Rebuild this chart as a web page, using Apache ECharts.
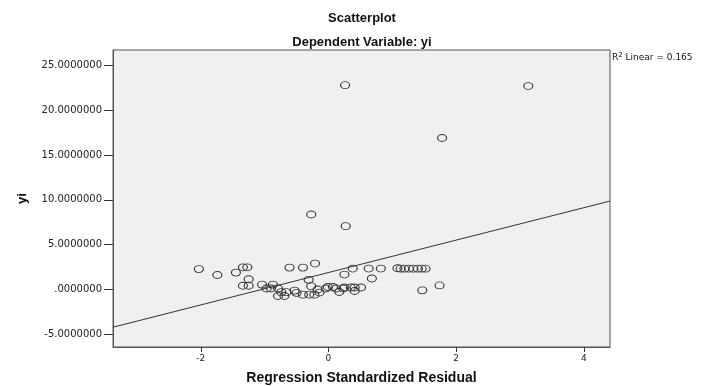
<!DOCTYPE html>
<html>
<head>
<meta charset="utf-8">
<script src="https://cdn.jsdelivr.net/npm/echarts@6/dist/echarts.min.js"></script>
<style>
  html, body { margin: 0; padding: 0; background: #fff; }
  #chart { width: 706px; height: 386px; }
</style>
</head>
<body>
<div id="chart"></div>
<script>
// residual (x) / yi (y) pairs
var points = [
  [0.26, 22.8], [3.13, 22.7], [1.78, 16.9], [-0.27, 8.35], [0.27, 7.05],
  [-2.03, 2.25], [-1.74, 1.6], [-1.45, 1.86], [-1.34, 2.45], [-1.27, 2.45],
  [-1.25, 1.12], [-0.61, 2.42], [-0.40, 2.42], [-0.21, 2.87], [-0.31, 1.05],
  [0.25, 1.64], [0.38, 2.31], [0.63, 2.31], [0.82, 2.31], [0.68, 1.2],
  [1.08, 2.35], [1.13, 2.3], [1.19, 2.3], [1.26, 2.3], [1.33, 2.3],
  [1.40, 2.3], [1.46, 2.3], [1.52, 2.3],
  [-1.34, 0.4], [-1.25, 0.4], [-1.04, 0.52], [-0.97, 0.08], [-0.87, 0.52],
  [-0.90, 0.08], [-0.79, 0.08], [-0.74, -0.32], [-0.66, -0.32], [-0.53, -0.15],
  [-0.50, -0.4], [-0.79, -0.75], [-0.69, -0.75], [-0.40, -0.6], [-0.30, -0.6],
  [-0.22, -0.6], [-0.27, 0.35], [-0.14, -0.37], [-0.17, -0.03], [-0.04, 0.08],
  [-0.01, 0.26], [0.07, 0.26], [0.12, 0.08], [0.17, -0.3], [0.23, 0.08],
  [0.25, 0.19], [0.35, 0.19], [0.41, 0.19], [0.51, 0.19], [0.41, -0.19],
  [1.47, -0.12], [1.74, 0.43]
];
// fit line: intercept, slope
var fitLine = [1.87, 1.81];
var xTicks = [-2, 0, 2, 4];
var yTicks = [-5, 0, 5, 10, 15, 20, 25];
var xRange = [-3.375, 4.41];
var yRange = [-6.45, 26.73];

var font = "'Liberation Sans', Arial, sans-serif";
var tickFont = "'DejaVu Sans', sans-serif";
var chart = echarts.init(document.getElementById("chart"));

var option = {
  backgroundColor: "#fff",
  animation: false,
  title: [
    {
      text: "Scatterplot",
      left: 357, top: 7, textAlign: "center",
      textStyle: { fontFamily: font, fontSize: 13, fontWeight: "bold", color: "#111" }
    },
    {
      text: "Dependent Variable: yi",
      left: 357, top: 31, textAlign: "center",
      textStyle: { fontFamily: font, fontSize: 13, fontWeight: "bold", color: "#111" }
    }
  ],
  graphic: [
    {
      type: "text",
      left: 612, top: 52,
      style: {
        text: "R{sup|2} Linear = 0.165",
        fontFamily: tickFont, fontSize: 9, fill: "#111",
        rich: { sup: { fontSize: 7, verticalAlign: "top", padding: [0, 0, 5, 0], fontFamily: tickFont } }
      }
    }
  ],
  grid: {
    left: 113, right: 96, top: 50, bottom: 39,
    outerBoundsMode: "none",
    show: true, backgroundColor: "#f0f0f0", borderColor: "#555", borderWidth: 1
  },
  xAxis: {
    type: "value",
    min: xRange[0], max: xRange[1],
    name: "Regression Standardized Residual",
    nameLocation: "middle", nameGap: 24,
    nameTextStyle: { fontFamily: font, fontSize: 14, fontWeight: "bold", color: "#111" },
    axisLine: { show: true, onZero: false, lineStyle: { color: "#555" } },
    axisTick: { show: true, customValues: xTicks, length: 5, lineStyle: { color: "#333" } },
    axisLabel: { customValues: xTicks, fontFamily: tickFont, fontSize: 9, color: "#222", margin: 7 },
    splitLine: { show: false }
  },
  yAxis: {
    type: "value",
    min: yRange[0], max: yRange[1],
    name: "yi",
    nameLocation: "middle", nameGap: 84, nameRotate: 90,
    nameTextStyle: { fontFamily: font, fontSize: 13, fontWeight: "bold", color: "#111" },
    axisLine: { show: true, onZero: false, lineStyle: { color: "#555" } },
    axisTick: { show: true, customValues: yTicks, length: 9, lineStyle: { color: "#333" } },
    axisLabel: {
      customValues: yTicks, fontFamily: tickFont, fontSize: 10, color: "#222", margin: 11,
      formatter: function (v) { return v === 0 ? ".0000000" : v.toFixed(7); }
    },
    splitLine: { show: false }
  },
  series: [
    {
      type: "line",
      data: [
        [xRange[0], fitLine[0] + fitLine[1] * xRange[0]],
        [xRange[1], fitLine[0] + fitLine[1] * xRange[1]]
      ],
      symbol: "none",
      lineStyle: { color: "#333", width: 1 },
      z: 2
    },
    {
      type: "scatter",
      data: points,
      symbol: "circle",
      symbolSize: [9, 7],
      itemStyle: { color: "rgba(0,0,0,0)", borderColor: "#333", borderWidth: 1, opacity: 1 },
      z: 3
    }
  ]
};

chart.setOption(option);
</script>
</body>
</html>
